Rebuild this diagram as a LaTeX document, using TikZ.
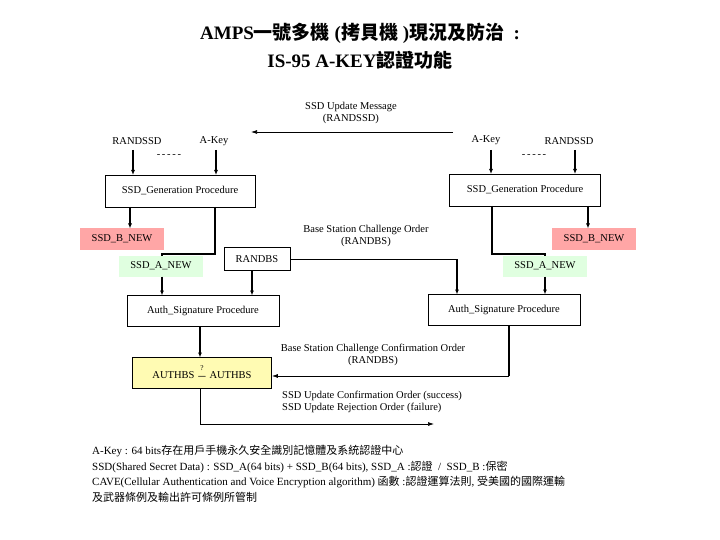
\documentclass[tikz,border=0pt]{standalone}
\usepackage{fontspec}
\usepackage{amsmath}
\setmainfont{Liberation Serif}
\newfontfamily\cjk{Noto Sans CJK TC}
\usetikzlibrary{arrows.meta}
\newcommand{\dashrow}{{-}\,{-}\,{-}\,{-}\,{-}}
\begin{document}
\begin{tikzpicture}[x=1pt,y=-1pt,
  txt/.style={font=\fontsize{10.5}{12.5}\selectfont,inner sep=1pt},
  box/.style={draw,thick,font=\fontsize{10.5}{12.5}\selectfont,inner sep=0pt},
  arr/.style={-{Latex[length=5pt,width=4pt]},line width=1.2pt},
  ln/.style={line width=1.2pt},
  thn/.style={line width=0.7pt}]
\useasboundingbox (0,0) rectangle (720,540);
\fill[white] (0,0) rectangle (720,540);
% title
\node (t1) at (360,33) {\fontsize{19}{22}\selectfont\bfseries AMPS{\cjk 一號多機} ({\cjk 拷貝機} ){\cjk 現況及防治} \ :};
\node (t2) at (360,60) {\fontsize{19}{22}\selectfont\bfseries IS-95 A-KEY{\cjk 認證功能}};
% top message
\node[txt,align=center] (upd) at (351,113) {SSD Update Message\\(RANDSSD)};
\coordinate (updS) at (453,132);
\coordinate (updE) at (251,132);
\draw[thn,-{Latex[length=6pt,width=4pt]}] (updS) -- (updE);
% left top
\node[txt] (lr) at (137,141) {RANDSSD};
\node[txt] (lk) at (214,141) {A-Key};
\node[txt] (ld) at (169,156) {\dashrow};
\node[box,minimum width=150pt,minimum height=32pt] (lg) at (180,191) {SSD\_Generation Procedure};
\draw[arr] (133,150) -- (133,175);
\draw[arr] (216,150) -- (216,175);
% right top
\node[txt] (rk) at (486,140) {A-Key};
\node[txt] (rr) at (569,141) {RANDSSD};
\node[txt] (rd) at (534,156) {\dashrow};
\node[box,minimum width=151pt,minimum height=32pt] (rg) at (525,190) {SSD\_Generation Procedure};
\draw[arr] (491,150) -- (491,174);
\draw[arr] (575,150) -- (575,174);
% SSD_B
\node[txt,fill=red!35,minimum width=84pt,minimum height=21pt] (lb) at (122,239) {SSD\_B\_NEW};
\node[txt,fill=red!35,minimum width=84pt,minimum height=21pt] (rb) at (594,239) {SSD\_B\_NEW};
\draw[arr] (130,207) -- (130,228.5);
\draw[arr] (588,206) -- (588,228.5);
% SSD_A lines
\draw[ln] (215,207) -- (215,254) -- (162,254) -- (162,266);
\draw[ln] (492,206) -- (492,254) -- (545,254) -- (545,266);
\node[txt,fill=green!12,minimum width=84pt,minimum height=21pt] (la) at (161,266) {SSD\_A\_NEW};
\node[txt,fill=green!12,minimum width=84pt,minimum height=21pt] (ra) at (545,266) {SSD\_A\_NEW};
% RANDBS
\node[box,minimum width=66pt,minimum height=23pt] (rbs) at (257,259) {RANDBS};
\node[txt,align=center] (bsc) at (366,236) {Base Station Challenge Order\\(RANDBS)};
\draw[thn] (rbs.east) -- (457,259);
% auth boxes
\node[box,minimum width=152pt,minimum height=31pt] (la2) at (203,311) {Auth\_Signature Procedure};
\node[box,minimum width=152pt,minimum height=31pt] (ra2) at (504,310) {Auth\_Signature Procedure};
\draw[arr] (162,276.5) -- (162,295.5);
\draw[arr] (252,270) -- (252,295.5);
\draw[arr] (457,259) -- (457,294.5);
\draw[arr] (545,276.5) -- (545,294.5);
% AUTHBS
\node[box,fill=yellow!30,minimum width=139pt,minimum height=31pt] (au) at (202,373) {AUTHBS \raisebox{-1pt}{$\overset{\text{?}}{\boldsymbol{-}}$} AUTHBS};
\draw[arr] (200,326.5) -- (200,357.5);
\node[txt,align=center] (bcc) at (373,355) {Base Station Challenge Confirmation Order\\(RANDBS)};
\draw[ln] (509,325.5) -- (509,376);
\draw[thn,-{Latex[length=6pt,width=4pt]}] (509,376) -- (au.east|-0,376);
\node[txt,align=left,anchor=west] (suc) at (281,402) {SSD Update Confirmation Order (success)\\SSD Update Rejection Order (failure)};
\coordinate (endp) at (434,424);
\draw[thn] (200,388.5) -- (200,424);
\draw[thn,-{Latex[length=6pt,width=4pt]}] (200,424) -- (endp);
% notes
\node[anchor=west,align=left,font=\fontsize{11}{15.5}\selectfont,inner sep=0pt] (notes) at (92,474) {A-Key : 64 bits{\cjk 存在用戶手機永久安全識別記憶體及系統認證中心}\\
SSD(Shared Secret Data) : SSD\_A(64 bits) + SSD\_B(64 bits), SSD\_A :{\cjk 認證} \ / \ SSD\_B :{\cjk 保密}\\
CAVE(Cellular Authentication and Voice Encryption algorithm) {\cjk 函數} :{\cjk 認證運算法則}, {\cjk 受美國的國際運輸}\\
{\cjk 及武器條例及輸出許可條例所管制}};
\end{tikzpicture}
\end{document}
